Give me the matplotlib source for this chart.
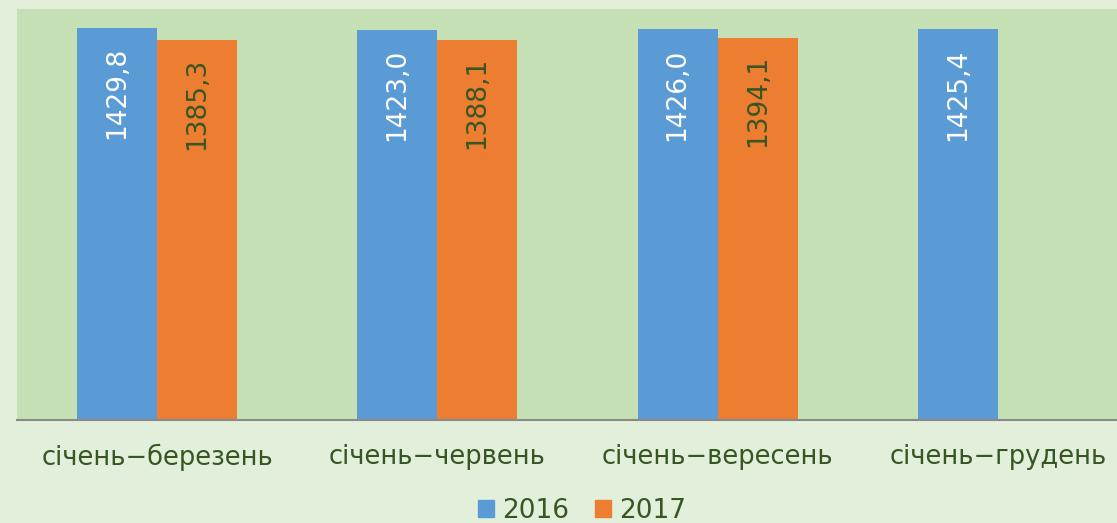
import matplotlib
matplotlib.use("Agg")
import numpy as np
from matplotlib import pyplot as plt
from matplotlib.patches import Patch

categories = ["січень\u2212березень", "січень\u2212червень", "січень\u2212вересень", "січень\u2212грудень"]
values_2016 = [1429.8, 1423.0, 1426.0, 1425.4]
values_2017 = [1385.3, 1388.1, 1394.1, None]
series_names = ["2016", "2017"]

blue = "#5b9bd5"
orange = "#ed7d31"
dark_green = "#375623"

plt.rcParams['font.family'] = ['DejaVu Sans']

fig = plt.figure(figsize=(11.17, 5.23), dpi=100)
fig.patch.set_facecolor("#e2efda")

W, H = 1117, 523
# plot area runs past the right edge of the picture (cropped like the original)
ax = fig.add_axes([17 / W, 1 - 420 / H, (1138 - 17) / W, (420 - 9) / H])
ax.set_facecolor("#c5e0b4")

x = np.arange(len(categories))
w = 80 / 280

b1 = ax.bar(x - w / 2, values_2016, width=w, color=blue)
x2 = [xi + w / 2 for xi, v in zip(x, values_2017) if v is not None]
v2 = [v for v in values_2017 if v is not None]
b2 = ax.bar(x2, v2, width=w, color=orange)

def fmt(v):
    return ("%.1f" % v).replace(".", ",")

for xi, v in zip(x - w / 2, values_2016):
    ax.annotate(fmt(v), (xi, v), xytext=(0, -19), textcoords="offset pixels",
                rotation=90, ha="center", va="top", color="white", fontsize=19)
for xi, v in zip(x2, v2):
    ax.annotate(fmt(v), (xi, v), xytext=(0, -17), textcoords="offset pixels",
                rotation=90, ha="center", va="top", color=dark_green, fontsize=19)

ax.set_ylim(0, 1500)
ax.set_xlim(-0.5, 3.5)
ax.set_yticks([])
ax.set_xticks(x)
ax.set_xticklabels(categories, fontsize=18.5, color=dark_green)
ax.tick_params(axis="x", length=0, pad=17)
for s in ["top", "right", "left"]:
    ax.spines[s].set_visible(False)
ax.spines["bottom"].set_color("#898989")
ax.spines["bottom"].set_linewidth(1.5)

handles = [Patch(color=blue), Patch(color=orange)]
fig.legend(handles, series_names, loc="center", bbox_to_anchor=(582 / W, 1 - 511 / H),
           ncol=2, frameon=False, fontsize=19, labelcolor=dark_green,
           handlelength=0.6, handleheight=0.6, handletextpad=0.3, columnspacing=1.0)

plt.savefig("out.png", dpi=100, facecolor=fig.get_facecolor())
